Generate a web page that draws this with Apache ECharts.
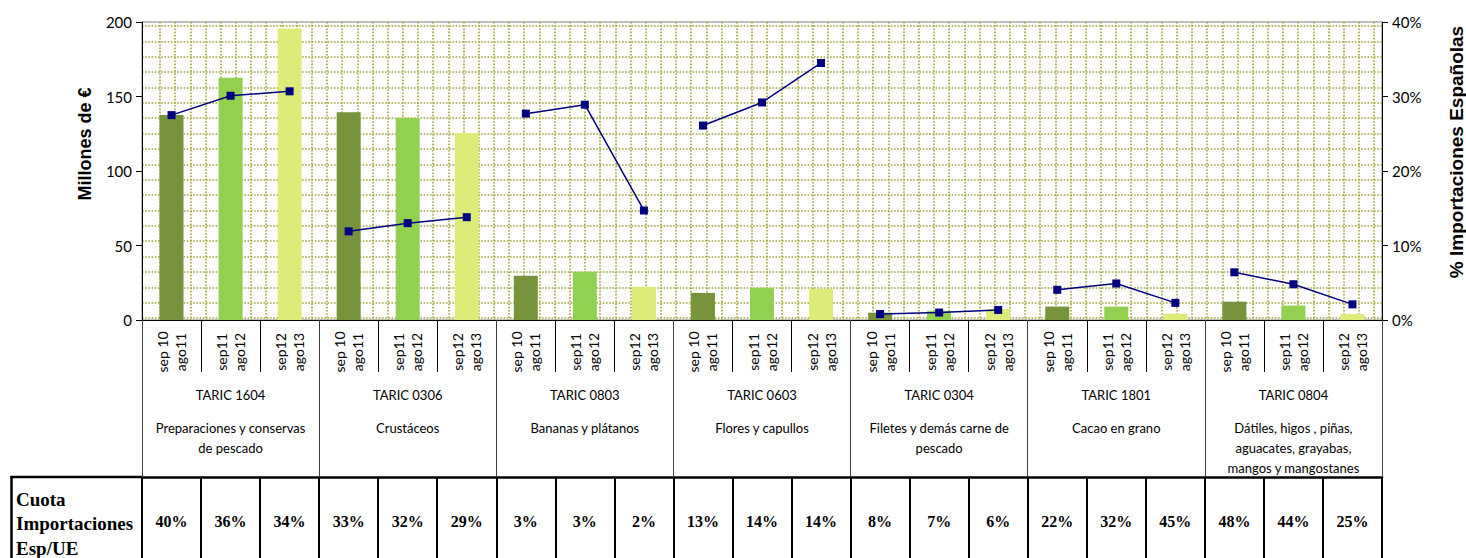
<!DOCTYPE html>
<html>
<head>
<meta charset="utf-8">
<script src="https://cdn.jsdelivr.net/npm/echarts@6/dist/echarts.min.js"></script>
<style>
  html, body { margin: 0; padding: 0; background: #fff; }
  #chart { width: 1466px; height: 558px; }
</style>
</head>
<body>
<div id="chart"></div>
<script>
// periodos de cada grupo TARIC
var periodos = ['sep 10\nago11', 'sep11\nago12', 'sep12\nago13'];
var taricCodigos = ['TARIC 1604', 'TARIC 0306', 'TARIC 0803', 'TARIC 0603', 'TARIC 0304', 'TARIC 1801', 'TARIC 0804'];
var taricNombres = [
  'Preparaciones y conservas\nde pescado',
  'Crustáceos',
  'Bananas y plátanos',
  'Flores y capullos',
  'Filetes y demás carne de\npescado',
  'Cacao en grano',
  'Dátiles, higos , piñas,\naguacates, grayabas,\nmangos y mangostanes'
];
// Millones de €
var millones = [137.6, 162.6, 195.6, 139.4, 135.6, 125.5, 29.7, 32.4, 22.3, 18.2, 21.6, 20.9, 4.9, 6.1, 7.4, 9.0, 9.0, 4.2, 12.3, 9.7, 4.0];
// % Importaciones Españolas
var cuotaEsp = [27.5, 30.1, 30.7, 11.9, 13.0, 13.8, 27.7, 28.9, 14.7, 26.1, 29.2, 34.5, 0.8, 1.0, 1.35, 4.05, 4.9, 2.3, 6.4, 4.8, 2.1];
// Cuota Importaciones Esp/UE
var cuotaUE = ['40%', '36%', '34%', '33%', '32%', '29%', '3%', '3%', '2%', '13%', '14%', '14%', '8%', '7%', '6%', '22%', '32%', '45%', '48%', '44%', '25%'];
var ticksMillones = [0, 200, 50];
var ticksPct = [0, 40, 10];

var coloresBarra = ['#77933C', '#92D050', '#DDEC78'];
var colorLinea = '#000080';
var puntos = { color: '#A3A33A', width: 1.6, type: [1.6, 1.6] };

var categorias = [];
taricCodigos.forEach(function () {
  periodos.forEach(function (p) { categorias.push(p); });
});

var myChart = echarts.init(document.getElementById('chart'), null, { renderer: 'svg' });

var seriesLinea = taricCodigos.map(function (c, g) {
  return {
    name: c,
    type: 'line',
    xAxisIndex: 0,
    yAxisIndex: 1,
    z: 5,
    symbol: 'rect',
    symbolSize: 8,
    lineStyle: { color: colorLinea, width: 1.5 },
    itemStyle: { color: colorLinea },
    data: cuotaEsp.map(function (v, i) { return Math.floor(i / 3) === g ? v : '-'; })
  };
});

var option = {
  backgroundColor: '#fff',
  animation: false,
  grid: [
    { left: 142, right: 84, top: 22, bottom: 238, show: true, borderColor: '#7f7f7f', borderWidth: 1, containLabel: false, outerBoundsMode: 'none' },
    // trama punteada (verticales)
    { left: 160, right: 92, top: 22, bottom: 238, containLabel: false, outerBoundsMode: 'none' },
    // trama punteada (horizontales)
    { left: 142, right: 84, top: 26, bottom: 240, containLabel: false, outerBoundsMode: 'none' }
  ],
  xAxis: [
    {
      gridIndex: 0,
      type: 'category',
      data: categorias,
      position: 'bottom',
      axisLine: { lineStyle: { color: '#000', width: 1 } },
      axisTick: { show: true, interval: 0, length: 52, lineStyle: { color: '#000' } },
      axisLabel: {
        interval: 0, rotate: 90, align: 'center', verticalAlign: 'middle',
        margin: 32, lineHeight: 18, fontFamily: 'Lato', fontSize: 14, color: '#000'
      },
      splitLine: { show: false }
    },
    {
      gridIndex: 0,
      type: 'category',
      data: taricCodigos,
      position: 'bottom',
      axisLine: { show: false },
      axisTick: { show: true, interval: 0, length: 157, lineStyle: { color: '#404040' } },
      axisLabel: {
        interval: 0,
        margin: 52,
        formatter: function (v, i) {
          var lineas = taricNombres[i].split('\n').map(function (t) { return '{b|' + t + '}'; });
          return '{a|' + v + '}\n' + lineas.join('\n');
        },
        rich: {
          a: { fontFamily: 'Lato', fontSize: 13, color: '#000', lineHeight: 46 },
          b: { fontFamily: 'Lato', fontSize: 13, color: '#000', lineHeight: 20 }
        }
      },
      splitLine: { show: false }
    },
    {
      gridIndex: 0,
      type: 'category',
      data: cuotaUE,
      position: 'bottom',
      offset: 157,
      axisLine: { lineStyle: { color: '#000', width: 2.5 } },
      axisTick: { show: true, interval: 0, length: 90, lineStyle: { color: '#000', width: 2 } },
      axisLabel: {
        interval: 0, margin: 36,
        fontFamily: 'Liberation Serif', fontWeight: 'bold', fontSize: 16, color: '#000'
      },
      splitLine: { show: false }
    },
    {
      gridIndex: 1,
      type: 'value',
      min: 0, max: 80, interval: 1,
      axisLine: { show: false }, axisTick: { show: false }, axisLabel: { show: false },
      splitLine: { show: true, lineStyle: puntos }
    },
    {
      gridIndex: 2,
      type: 'value',
      show: false
    }
  ],
  yAxis: [
    {
      gridIndex: 0,
      type: 'value',
      position: 'left',
      min: ticksMillones[0], max: ticksMillones[1], interval: ticksMillones[2],
      axisLine: { show: true, lineStyle: { color: '#000' } },
      axisTick: { show: true, length: 6, lineStyle: { color: '#000' } },
      axisLabel: { margin: 10, fontFamily: 'Lato', fontSize: 15, color: '#000' },
      splitLine: { show: false }
    },
    {
      gridIndex: 0,
      type: 'value',
      position: 'right',
      min: ticksPct[0], max: ticksPct[1], interval: ticksPct[2],
      axisLine: { show: true, lineStyle: { color: '#000' } },
      axisTick: { show: true, length: 6, lineStyle: { color: '#000' } },
      axisLabel: { margin: 10, fontFamily: 'Lato', fontSize: 15, color: '#000', formatter: '{value}%' },
      splitLine: { show: false }
    },
    {
      gridIndex: 1,
      type: 'value',
      show: false
    },
    {
      gridIndex: 2,
      type: 'value',
      min: 0, max: 19, interval: 1,
      axisLine: { show: false }, axisTick: { show: false }, axisLabel: { show: false },
      splitLine: { show: true, lineStyle: puntos }
    }
  ],
  graphic: [
    {
      type: 'text', x: 85, y: 144, rotation: Math.PI / 2,
      style: { text: 'Millones de €', fontFamily: 'Liberation Sans', fontWeight: 'bold', fontSize: 18, fill: '#000', align: 'center', verticalAlign: 'middle' }
    },
    {
      type: 'text', x: 1456, y: 152, rotation: Math.PI / 2,
      style: { text: '% Importaciones Españolas', fontFamily: 'Liberation Sans', fontWeight: 'bold', fontSize: 19, fill: '#000', align: 'center', verticalAlign: 'middle' }
    },
    {
      type: 'line', shape: { x1: 10.5, y1: 477, x2: 143, y2: 477 },
      style: { stroke: '#000', lineWidth: 2.5 }
    },
    {
      type: 'line', shape: { x1: 11.5, y1: 476, x2: 11.5, y2: 558 },
      style: { stroke: '#000', lineWidth: 2.5 }
    },
    {
      type: 'text', x: 16, y: 486.75,
      style: { text: 'Cuota\nImportaciones\nEsp/UE', fontFamily: 'Liberation Serif', fontWeight: 'bold', fontSize: 19, lineHeight: 24.5, fill: '#000', align: 'left', verticalAlign: 'top' }
    }
  ],
  series: [
    {
      name: 'Millones de €',
      type: 'bar',
      xAxisIndex: 0,
      yAxisIndex: 0,
      barWidth: 24,
      data: millones.map(function (v, i) {
        return { value: v, itemStyle: { color: coloresBarra[i % 3] } };
      })
    }
  ].concat(seriesLinea)
};

myChart.setOption(option);
window.onresize = function () {
  myChart.resize();
};
</script>
</body>
</html>
